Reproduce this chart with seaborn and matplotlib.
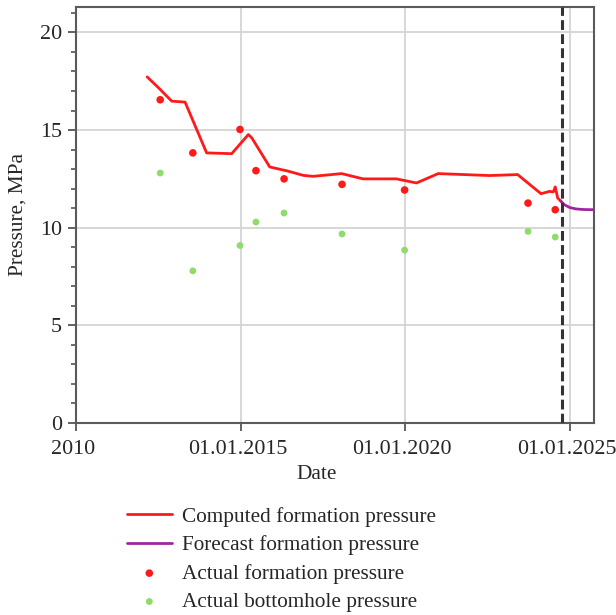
import matplotlib
matplotlib.use("Agg")
import matplotlib.pyplot as plt
import matplotlib.dates as mdates
import matplotlib.transforms as mtransforms
from matplotlib.ticker import MultipleLocator, FixedLocator, FixedFormatter
import numpy as np
import pandas as pd
import seaborn as sns

# Computed formation pressure (history match)
computed_dates = ["2012-03-01", "2012-07-05", "2012-11-28", "2013-04-25", "2013-12-20",
                  "2014-09-24", "2015-03-28", "2015-05-05", "2015-11-20", "2016-06-15",
                  "2016-11-25", "2017-03-15", "2018-01-25", "2018-09-20", "2019-09-25",
                  "2020-05-05", "2021-01-01", "2022-07-25", "2023-06-01", "2024-02-15",
                  "2024-05-20", "2024-07-01", "2024-07-22", "2024-08-18", "2024-09-24"]
computed_mpa = [17.72, 17.16, 16.48, 16.43, 13.83,
                13.79, 14.77, 14.60, 13.11, 12.89,
                12.68, 12.63, 12.77, 12.50, 12.50,
                12.29, 12.77, 12.67, 12.72, 11.74,
                11.86, 11.83, 12.09, 11.52, 11.35]

# Forecast formation pressure
forecast_dates = ["2024-09-24", "2024-10-30", "2025-01-01", "2025-03-10", "2025-06-01", "2025-10-01"]
forecast_mpa = [11.35, 11.18, 11.03, 10.96, 10.93, 10.92]

# Field measurements
measured_dates = ["2012-07-23", "2013-07-20", "2014-12-25", "2015-06-20", "2016-04-27",
                  "2018-01-30", "2019-12-25", "2023-09-24", "2024-07-22"]
formation_mpa = [16.55, 13.83, 15.03, 12.92, 12.50, 12.22, 11.93, 11.26, 10.92]
bottomhole_mpa = [12.80, 7.79, 9.09, 10.29, 10.75, 9.68, 8.85, 9.81, 9.52]

forecast_start = "2024-10-05"
x_ticks = ["2010-01-01", "2015-01-01", "2020-01-01", "2025-01-01"]
x_tick_labels = ["2010", "01.01.2015", "01.01.2020", "01.01.2025"]

computed = pd.DataFrame({"date": pd.to_datetime(computed_dates), "p": computed_mpa})
forecast = pd.DataFrame({"date": pd.to_datetime(forecast_dates), "p": forecast_mpa})
measured = pd.DataFrame({"date": pd.to_datetime(measured_dates),
                         "formation": formation_mpa, "bottomhole": bottomhole_mpa})

sns.set_style("white")
plt.rcParams["font.family"] = ["Liberation Serif", "DejaVu Serif"]
plt.rcParams["font.size"] = 15

fig = plt.figure(figsize=(6.16, 6.15), dpi=100)
ax = fig.add_axes([76 / 616, 1 - 423 / 615, (594 - 76) / 616, (423 - 7) / 615])

red = "#ff1a1a"
purple = "#a0269e"
green = "#8fdc6a"

sns.lineplot(data=computed, x="date", y="p", ax=ax, color=red, lw=2.0,
             label="Computed formation pressure", zorder=3)
sns.lineplot(data=forecast, x="date", y="p", ax=ax, color=purple, lw=2.0,
             label="Forecast formation pressure", zorder=3)
sns.scatterplot(data=measured, x="date", y="formation", ax=ax, color=red, s=30,
                edgecolor="none", label="Actual formation pressure", zorder=4)
sns.scatterplot(data=measured, x="date", y="bottomhole", ax=ax, color=green, s=24,
                edgecolor="none", label="Actual bottomhole pressure", zorder=4)

ax.axvline(pd.Timestamp(forecast_start), color="#333333", lw=2.2,
           linestyle=(0, (3.2, 1.4)), zorder=5)

ax.set_xlim(pd.Timestamp("2010-01-01"), pd.Timestamp("2025-09-25"))
ax.set_ylim(0, 21.3)

tick_nums = mdates.date2num(pd.to_datetime(x_ticks))
ax.xaxis.set_major_locator(FixedLocator(tick_nums))
ax.xaxis.set_major_formatter(FixedFormatter(x_tick_labels))
ax.yaxis.set_major_locator(MultipleLocator(5))
ax.yaxis.set_minor_locator(MultipleLocator(1))

ax.grid(True, which="major", color="#d4d4d4", lw=1.3, zorder=0)
ax.set_axisbelow(True)
# no gridline on the left boundary tick
ax.get_xgridlines()[0].set_visible(False)

ax.tick_params(axis="both", which="major", direction="out", length=6, width=1.3,
               color="#555555", labelsize=15.8, bottom=True, left=True)
ax.tick_params(axis="y", which="minor", direction="out", length=3.5, width=1.2,
               color="#555555", left=True)
ax.tick_params(axis="x", which="major", pad=6)
ax.tick_params(axis="y", which="major", pad=4)

# date labels sit slightly left of their ticks
shift = mtransforms.ScaledTranslation(-3 / 100, 0, fig.dpi_scale_trans)
for tick in ax.xaxis.get_major_ticks():
    tick.label1.set_transform(tick.label1.get_transform() + shift)

for side, sp in ax.spines.items():
    sp.set_visible(True)
    sp.set_color("#5a5a5a")
    sp.set_linewidth(1.5)

ax.set_xlabel("Date", fontsize=15.3)
ax.set_ylabel("Pressure, MPa", fontsize=15.3)
ax.xaxis.set_label_coords((317 - 76) / (594 - 76), -0.102)
ax.yaxis.set_label_coords((28 - 76) / (594 - 76), 0.5)

handles, labels = ax.get_legend_handles_labels()
ax.get_legend().remove()
fig.legend(handles, labels, loc="upper left", bbox_to_anchor=(127 / 616, 1 - 507 / 615),
           frameon=False, borderpad=0, borderaxespad=0, handlelength=2.1,
           handletextpad=0.5, labelspacing=0.4, fontsize=15.3)

fig.savefig("out.png", dpi=100)
